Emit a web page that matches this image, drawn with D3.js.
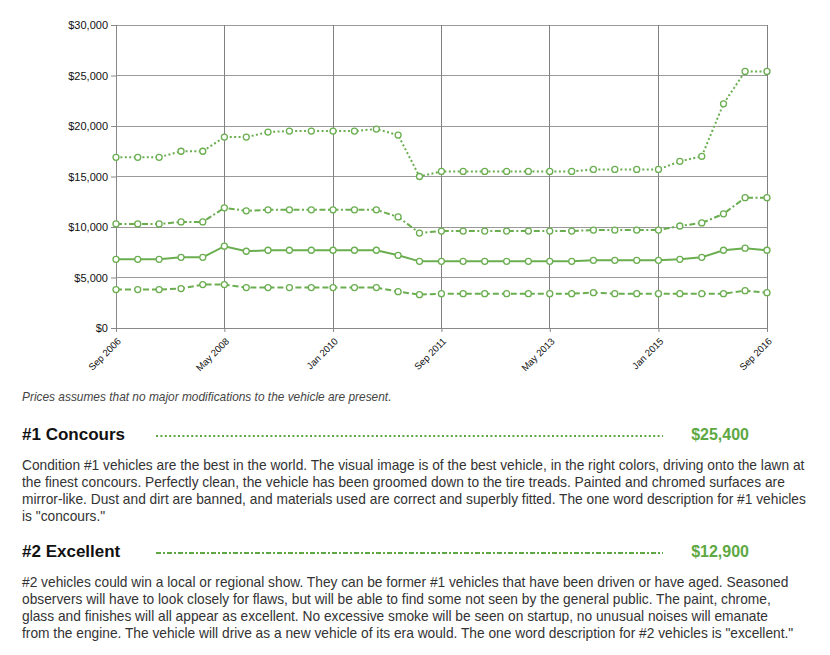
<!DOCTYPE html>
<html>
<head>
<meta charset="utf-8">
<script src="https://cdn.jsdelivr.net/npm/d3@7"></script>
<style>
  body { margin: 0; background: #fff; }
  svg { display: block; font-family: "Liberation Sans", Arial, sans-serif; }
</style>
</head>
<body>
<div id="chart"></div>
<script>
// sample dates, every 4 months
var months = ["2006-09","2007-01","2007-05","2007-09","2008-01","2008-05","2008-09","2009-01",
  "2009-05","2009-09","2010-01","2010-05","2010-09","2011-01","2011-05","2011-09","2012-01",
  "2012-05","2012-09","2013-01","2013-05","2013-09","2014-01","2014-05","2014-09","2015-01",
  "2015-05","2015-09","2016-01","2016-05","2016-09"];

var concours  = [16900,16900,16900,17500,17500,18900,18900,19400,19500,19500,19500,19500,19700,19100,15000,
  15500,15500,15500,15500,15500,15500,15500,15700,15700,15700,15700,16500,17000,22200,25400,25400];
var excellent = [10300,10300,10300,10500,10500,11900,11600,11700,11700,11700,11700,11700,11700,11000,9400,
  9600,9600,9600,9600,9600,9600,9600,9700,9700,9700,9700,10100,10400,11300,12900,12900];
var good      = [6800,6800,6800,7000,7000,8100,7600,7700,7700,7700,7700,7700,7700,7200,6600,
  6600,6600,6600,6600,6600,6600,6600,6700,6700,6700,6700,6800,7000,7700,7900,7700];
var fair      = [3800,3800,3800,3900,4300,4300,4000,4000,4000,4000,4000,4000,4000,3600,3300,
  3400,3400,3400,3400,3400,3400,3400,3500,3400,3400,3400,3400,3400,3400,3700,3500];

var xTickLabels = ["2006-09","2008-05","2010-01","2011-09","2013-05","2015-01","2016-09"];
var yTicks = [0,5000,10000,15000,20000,25000,30000];

var series = [
  {name: "concours", values: concours, dash: "2,2.4"},
  {name: "excellent", values: excellent, dash: "6,2.5,2,2.5"},
  {name: "good", values: good, dash: null},
  {name: "fair", values: fair, dash: "6,3"}
];

var note = "Prices assumes that no major modifications to the vehicle are present.";
var sections = [
  {title: "#1 Concours", price: "$25,400", dash: "2,2.4",
   lines: ["Condition #1 vehicles are the best in the world. The visual image is of the best vehicle, in the right colors, driving onto the lawn at",
           "the finest concours. Perfectly clean, the vehicle has been groomed down to the tire treads. Painted and chromed surfaces are",
           "mirror-like. Dust and dirt are banned, and materials used are correct and superbly fitted. The one word description for #1 vehicles",
           "is \"concours.\""]},
  {title: "#2 Excellent", price: "$12,900", dash: "5,2,2,2",
   lines: ["#2 vehicles could win a local or regional show. They can be former #1 vehicles that have been driven or have aged. Seasoned",
           "observers will have to look closely for flaws, but will be able to find some not seen by the general public. The paint, chrome,",
           "glass and finishes will all appear as excellent. No excessive smoke will be seen on startup, no unusual noises will emanate",
           "from the engine. The vehicle will drive as a new vehicle of its era would. The one word description for #2 vehicles is \"excellent.\""]}
];

var width = 830, height = 655;
var margin = {left: 116, top: 25, right: 63};
var plotBottom = 328;
var green = "#6aae50";

var parse = d3.timeParse("%Y-%m");
var dates = months.map(parse);

var svg = d3.select("#chart").append("svg")
  .attr("width", width).attr("height", height);

var x = d3.scaleTime()
  .domain(d3.extent(dates))
  .range([margin.left, width - margin.right]);
var y = d3.scaleLinear()
  .domain([0, 30000])
  .range([plotBottom, margin.top]);

// grid
var grid = svg.append("g");
grid.selectAll(".hgrid").data(yTicks).enter().append("line")
  .attr("x1", margin.left).attr("x2", width - margin.right)
  .attr("y1", d => y(d)).attr("y2", d => y(d))
  .attr("stroke", "#9a9a9a").attr("stroke-width", 1).attr("shape-rendering", "crispEdges");
grid.selectAll(".vgrid").data(xTickLabels.map(parse)).enter().append("line")
  .attr("x1", d => x(d)).attr("x2", d => x(d))
  .attr("y1", margin.top).attr("y2", plotBottom)
  .attr("stroke", "#808080").attr("stroke-width", 1).attr("shape-rendering", "crispEdges");

// axes
var yAxis = svg.append("g")
  .attr("transform", "translate(" + margin.left + ",0)")
  .call(d3.axisLeft(y).tickValues(yTicks).tickSize(5).tickPadding(3)
    .tickFormat(d => "$" + d3.format(",")(d)));
yAxis.select(".domain").attr("stroke", "#888");
yAxis.selectAll(".tick line").attr("stroke", "#888");
yAxis.selectAll("text").attr("font-size", 11).attr("fill", "#111")
  .attr("font-family", "Liberation Sans, Arial, sans-serif");

var xAxis = svg.append("g")
  .attr("transform", "translate(0," + plotBottom + ")")
  .call(d3.axisBottom(x).tickValues(xTickLabels.map(parse)).tickSize(4)
    .tickFormat(d3.timeFormat("%b %Y")));
xAxis.select(".domain").attr("stroke", "#888");
xAxis.selectAll(".tick line").attr("stroke", "#888");
xAxis.selectAll("text")
  .attr("font-size", 9.6).attr("fill", "#111")
  .attr("font-family", "Liberation Sans, Arial, sans-serif")
  .attr("text-anchor", "end")
  .attr("dy", "0.3em")
  .attr("transform", "translate(-2,7) rotate(-45)");

// lines
var line = d3.line()
  .x((d, i) => x(dates[i]))
  .y(d => y(d));

var sg = svg.selectAll(".series").data(series).enter().append("g").attr("class", "series");
sg.append("path")
  .attr("d", d => line(d.values))
  .attr("fill", "none")
  .attr("stroke", green)
  .attr("stroke-width", 2)
  .attr("stroke-dasharray", d => d.dash);
sg.selectAll("circle").data(d => d.values).enter().append("circle")
  .attr("cx", (d, i) => x(dates[i]))
  .attr("cy", d => y(d))
  .attr("r", 3)
  .attr("fill", "#fff")
  .attr("stroke", green)
  .attr("stroke-width", 1.3);

// notes below
svg.append("text")
  .attr("x", 22).attr("y", 401)
  .attr("font-size", 11.9).attr("font-style", "italic").attr("fill", "#444")
  .text(note);

sections.forEach(function(s, k){
  var top = 440 + k * 117;
  svg.append("text")
    .attr("x", 22).attr("y", top)
    .attr("font-size", 17).attr("font-weight", "bold").attr("fill", "#111")
    .text(s.title);
  svg.append("line")
    .attr("x1", 156).attr("x2", 663)
    .attr("y1", top - 4).attr("y2", top - 4)
    .attr("stroke", "#5ea843").attr("stroke-width", 2)
    .attr("stroke-dasharray", s.dash);
  svg.append("text")
    .attr("x", 749).attr("y", top)
    .attr("text-anchor", "end")
    .attr("font-size", 16).attr("font-weight", "bold").attr("fill", "#5ea843")
    .text(s.price);
  svg.selectAll(".p" + k).data(s.lines).enter().append("text")
    .attr("x", 22).attr("y", (d, i) => top + 30 + i * 17)
    .attr("font-size", 13.75).attr("fill", "#333")
    .text(d => d);
});
</script>
</body>
</html>
